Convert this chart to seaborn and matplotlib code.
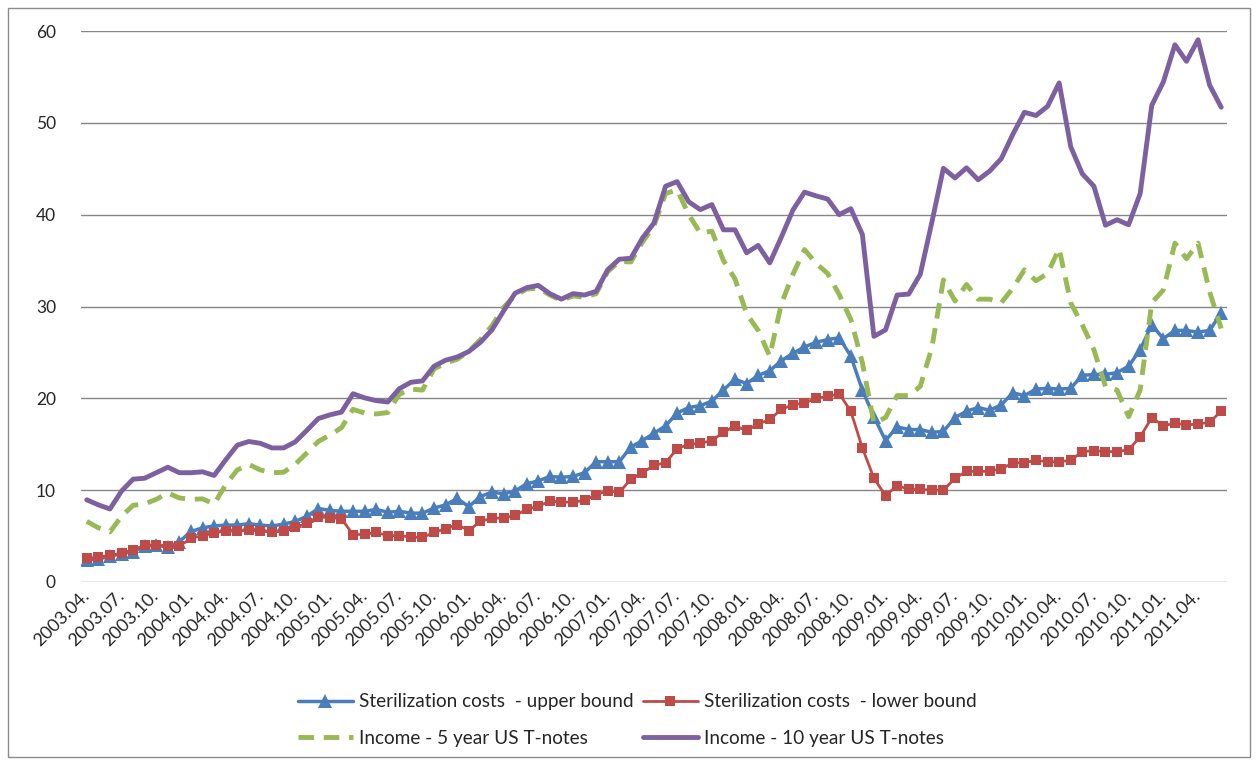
import numpy as np
import pandas as pd
import matplotlib
matplotlib.use("Agg")
import matplotlib.pyplot as plt
import matplotlib.transforms as mtransforms
import seaborn as sns
from matplotlib.patches import Rectangle

# monthly values, 2003.04 - 2011.06
upper = [2.4, 2.5, 2.8, 3.1, 3.3, 3.9, 4.0, 3.8, 4.4, 5.5, 5.9, 6.1, 6.2, 6.2, 6.35, 6.2, 6.1,
         6.3, 6.6, 7.15, 8.0, 7.8, 7.7, 7.7, 7.7, 7.9, 7.6, 7.7, 7.5, 7.5, 8.05, 8.4, 9.1, 8.2,
         9.3, 9.8, 9.6, 9.9, 10.7, 11.0, 11.5, 11.4, 11.5, 11.9, 13.1, 13.1, 13.1, 14.7, 15.4,
         16.2, 17.0, 18.4, 19.0, 19.2, 19.7, 20.9, 22.1, 21.6, 22.5, 23.0, 24.1, 24.9, 25.6,
         26.1, 26.4, 26.6, 24.6, 20.9, 18.0, 15.4, 16.9, 16.6, 16.6, 16.3, 16.4, 17.9, 18.6,
         19.0, 18.7, 19.3, 20.6, 20.3, 21.0, 21.1, 21.0, 21.1, 22.5, 22.6, 22.6, 22.8, 23.5,
         25.3, 28.0, 26.5, 27.4, 27.4, 27.2, 27.4, 29.3]
lower = [2.6, 2.7, 2.9, 3.15, 3.5, 4.0, 4.05, 3.95, 3.9, 4.75, 5.05, 5.3, 5.6, 5.5, 5.7, 5.6,
         5.45, 5.6, 5.95, 6.4, 7.1, 7.0, 6.9, 5.15, 5.2, 5.4, 5.05, 5.05, 4.9, 4.85, 5.4, 5.8,
         6.25, 5.6, 6.6, 6.95, 6.95, 7.25, 7.9, 8.25, 8.8, 8.7, 8.7, 8.9, 9.5, 9.95, 9.75, 11.2,
         11.9, 12.7, 13.0, 14.5, 15.0, 15.1, 15.4, 16.3, 17.0, 16.5, 17.2, 17.7, 18.8, 19.3,
         19.5, 20.0, 20.2, 20.5, 18.6, 14.6, 11.3, 9.4, 10.5, 10.1, 10.1, 10.0, 10.0, 11.3,
         12.05, 12.05, 12.05, 12.35, 12.95, 13.0, 13.25, 13.1, 13.1, 13.25, 14.2, 14.3, 14.2,
         14.2, 14.4, 15.8, 17.9, 17.0, 17.3, 17.1, 17.2, 17.4, 18.6]
tnote5 = [6.6, 5.9, 5.45, 7.15, 8.35, 8.5, 9.0, 9.7, 9.15, 9.0, 9.05, 8.5, 10.6, 12.2, 12.8,
          12.2, 11.9, 11.95, 12.8, 14.05, 15.3, 16.0, 16.8, 18.8, 18.4, 18.3, 18.45, 20.45,
          21.0, 20.9, 23.2, 23.85, 24.25, 25.1, 26.4, 27.9, 29.9, 31.2, 31.9, 32.0, 31.25,
          30.65, 31.15, 31.0, 31.4, 33.8, 34.9, 34.85, 37.0, 38.8, 42.3, 42.7, 40.0, 38.0,
          38.2, 35.0, 33.0, 29.2, 27.4, 24.6, 30.3, 33.5, 36.2, 34.7, 33.6, 31.3, 28.6, 23.9,
          17.3, 17.9, 20.3, 20.3, 21.3, 25.5, 32.9, 30.6, 32.4, 30.8, 30.8, 30.4, 32.0, 34.0,
          32.8, 33.6, 36.3, 30.4, 28.0, 25.3, 21.3, 20.9, 18.0, 20.9, 30.4, 31.8, 36.9, 35.2,
          36.9, 31.6, 27.6]
tnote10 = [8.95, 8.4, 7.95, 9.9, 11.2, 11.3, 11.9, 12.5, 11.9, 11.9, 12.0, 11.6, 13.3, 14.9,
           15.3, 15.1, 14.6, 14.6, 15.25, 16.5, 17.8, 18.2, 18.5, 20.5, 20.05, 19.75, 19.6,
           21.05, 21.75, 21.9, 23.5, 24.15, 24.5, 25.1, 26.1, 27.45, 29.5, 31.45, 32.05, 32.3,
           31.4, 30.8, 31.4, 31.25, 31.65, 34.0, 35.15, 35.25, 37.45, 39.1, 43.1, 43.6, 41.4,
           40.55, 41.1, 38.35, 38.35, 35.85, 36.65, 34.75, 37.55, 40.5, 42.45, 42.05, 41.7,
           40.0, 40.65, 37.85, 26.75, 27.45, 31.25, 31.35, 33.5, 39.15, 45.05, 44.0, 45.1,
           43.8, 44.75, 46.1, 48.75, 51.15, 50.8, 51.8, 54.35, 47.4, 44.45, 43.1, 38.85, 39.45,
           38.9, 42.3, 51.9, 54.45, 58.5, 56.7, 59.05, 54.1, 51.7]

months = pd.period_range("2003-04", "2011-06", freq="M").strftime("%Y.%m.").tolist()
tick_labels = months[::3]

df = pd.DataFrame({"pos": range(len(months)), "month": months,
                   "upper": upper, "lower": lower, "t5": tnote5, "t10": tnote10})

sns.set_theme(style="white")
plt.rcParams["font.family"] = ["Lato", "DejaVu Sans"]

W, H = 1257, 761
fig = plt.figure(figsize=(W / 100, H / 100), dpi=100)
ax = fig.add_axes([81 / W, 1 - 582 / H, 1146 / W, 551 / H])

sns.lineplot(data=df, x="pos", y="upper", ax=ax, color="#4A7EBB", lw=2.5,
             marker="^", markersize=10, markeredgewidth=0,
             label="Sterilization costs  - upper bound")
sns.lineplot(data=df, x="pos", y="lower", ax=ax, color="#BE4B48", lw=2,
             marker="s", markersize=7, markeredgewidth=0,
             label="Sterilization costs  - lower bound")
sns.lineplot(data=df, x="pos", y="t5", ax=ax, color="#98B954", lw=3.5,
             label="Income - 5 year US T-notes")
ax.lines[-1].set_dashes([3.2, 2.0])
sns.lineplot(data=df, x="pos", y="t10", ax=ax, color="#7D60A0", lw=3.5,
             label="Income - 10 year US T-notes")

ax.set_xlim(-0.5, len(months) - 0.5)
ax.set_ylim(0, 60)
ax.set_yticks(range(0, 61, 10))
ax.set_xticks(range(0, len(months), 3))
ax.set_xticklabels(tick_labels, rotation=45, ha="right", va="center",
                   rotation_mode="anchor", fontsize=13)
shift = mtransforms.ScaledTranslation(5 / 100, -4 / 100, fig.dpi_scale_trans)
for t in ax.get_xticklabels():
    t.set_transform(t.get_transform() + shift)
ax.tick_params(axis="x", length=0, pad=8)
ax.tick_params(axis="y", length=0, pad=18, labelsize=12.5)
ax.set_xlabel("")
ax.set_ylabel("")
ax.yaxis.grid(True, color="#868686", lw=1)
ax.set_axisbelow(True)
for s in ax.spines.values():
    s.set_visible(False)

h, l = ax.get_legend_handles_labels()
ax.get_legend().remove()
order = [0, 2, 1, 3]
fig.legend([h[k] for k in order], [l[k] for k in order], ncol=2,
           loc="center", bbox_to_anchor=(637 / W, 1 - 720 / H), frameon=False,
           fontsize=13.7, handlelength=2.9, columnspacing=0.5, labelspacing=1.0,
           handletextpad=0.3)

fig.patches.append(Rectangle((8 / W, 4 / H), 1242 / W, 749 / H, transform=fig.transFigure,
                             fill=False, ec="#8c8c8c", lw=1))

fig.savefig("out.png", dpi=100)
